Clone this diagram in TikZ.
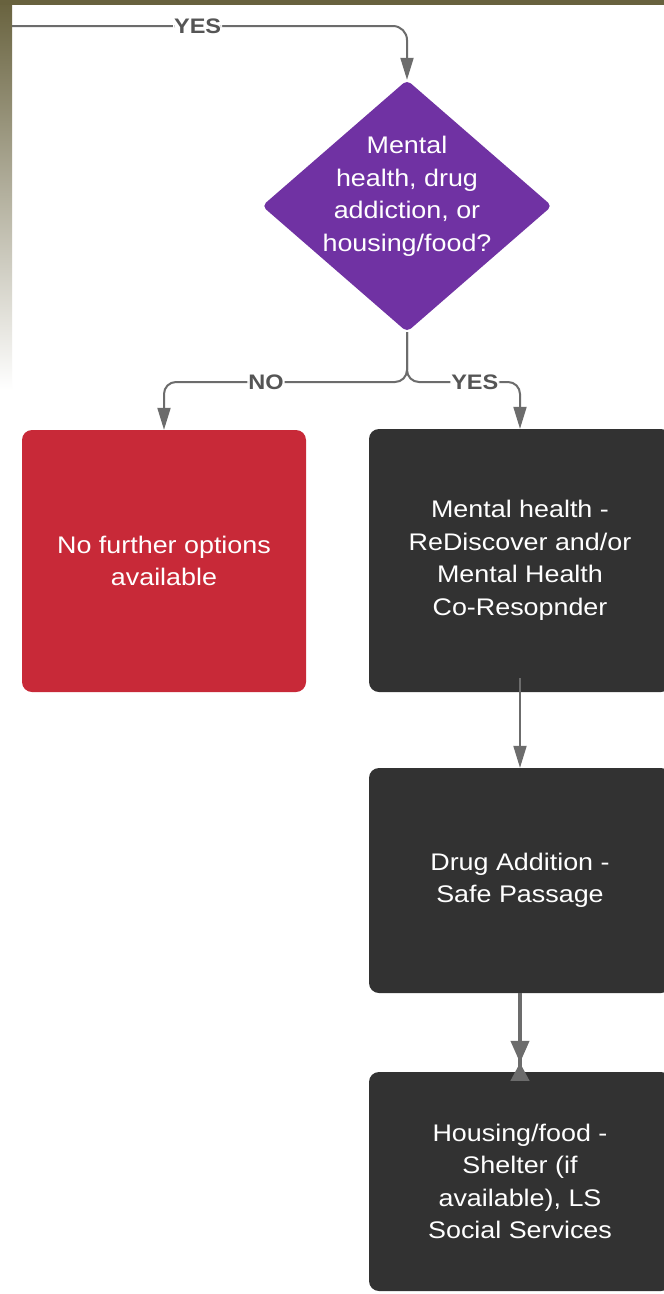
\documentclass[tikz,border=0pt]{standalone}
\usepackage{fontspec}
\setmainfont{Liberation Sans}[FakeStretch=1.12]
\usepackage{tikz}
\usetikzlibrary{shapes,arrows.meta,positioning,calc}
\usepackage{xcolor}
\definecolor{olivebar}{RGB}{104,98,62}
\definecolor{qpurple}{RGB}{112,50,163}
\definecolor{stopred}{RGB}{200,41,56}
\definecolor{stepdark}{RGB}{50,50,50}
\definecolor{linegray}{RGB}{108,108,108}
\definecolor{labelgray}{RGB}{85,85,85}

\begin{document}
\begin{tikzpicture}[x=1pt, y=-1pt]
    \tikzstyle{decision node} = [diamond, fill=qpurple, text=white, minimum width=290pt, minimum height=252pt, inner sep=-32pt, rounded corners=5pt, font=\fontsize{24}{32.5}\selectfont]
    \tikzstyle{box node} = [rectangle, rounded corners=10pt, text=white, align=center, font=\fontsize{24}{32.5}\selectfont]
    \tikzstyle{flow} = [draw=linegray, line width=2pt, -{Triangle[width=13pt,length=22pt]}]
    \tikzstyle{flow label} = [fill=white, text=labelgray, inner sep=1pt, font=\fontsize{21}{21}\selectfont\bfseries]
    % frame
    \useasboundingbox (0,0) rectangle (664,1294);
    \fill[white] (0,0) rectangle (664,1294);
    \shade[top color=olivebar, bottom color=white] (0,0) rectangle (12,390);
    \fill[olivebar] (0,0) rectangle (664,5);

    \coordinate (entry) at (12,26);
    \node[decision node] (decision) at (407,206) {\begin{tabular}{@{}c@{}}Mental\\health, drug\\addiction, or\\housing/food?\\[20pt]\end{tabular}};
    \coordinate (split) at (407,382);
    \node[box node, fill=stopred, minimum width=284pt, minimum height=262pt] (nooptions) at (164,561) {No further options\\available};
    \node[box node, fill=stepdark, minimum width=302pt, minimum height=263pt] (rediscover) at (520,560.5) {Mental health -\\ReDiscover and/or\\Mental Health\\Co-Resopnder};
    \node[box node, fill=stepdark, minimum width=302pt, minimum height=225pt] (safepassage) at (520,880.5) {Drug Addition -\\Safe Passage};
    \node[box node, fill=stepdark, minimum width=302pt, minimum height=219pt] (shelter) at (520,1181.5) {Housing/food -\\Shelter (if\\available), LS\\Social Services};

    % connectors
    \draw[flow, rounded corners=14pt] (entry) -| node[flow label, pos=0.235] {YES} (decision.north);
    \draw[flow, rounded corners=12pt] (decision.south) |- node[flow label, pos=0.79] {NO} (nooptions.north |- split) -- (nooptions.north);
    \draw[flow, rounded corners=12pt] (decision.south) |- node[flow label, pos=0.8] {YES} (rediscover.north |- split) -- (rediscover.north);
    \draw[flow] ([yshift=14pt]rediscover.south) -- (safepassage.north);
    \draw[flow, line width=4pt, -{Triangle[width=18pt,length=22pt] Triangle[reversed,width=18pt,length=18pt,sep=-12pt]}] (safepassage.south) -- ([yshift=3pt]shelter.north);
\end{tikzpicture}
\end{document}
